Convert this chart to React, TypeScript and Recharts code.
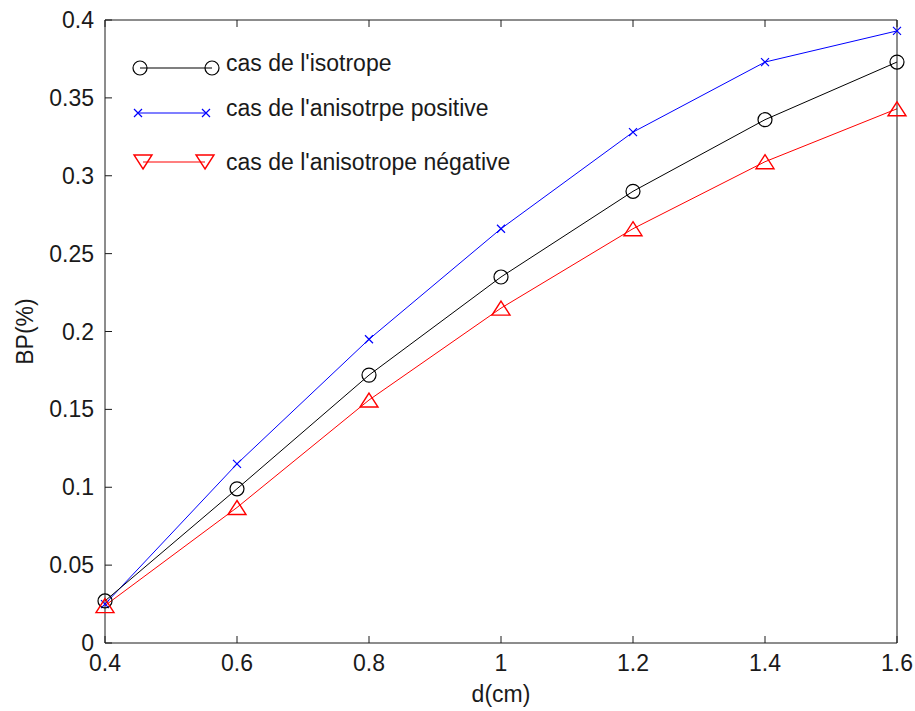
import React from 'react';
import { LineChart, Line, XAxis, YAxis, Legend } from 'recharts';

// thickness d (cm) and BP (%) for each case
const D_CM = [0.4, 0.6, 0.8, 1.0, 1.2, 1.4, 1.6];
const ISOTROPE = [0.027, 0.099, 0.172, 0.235, 0.29, 0.336, 0.373];
const ANISO_POSITIVE = [0.025, 0.115, 0.195, 0.266, 0.328, 0.373, 0.393];
const ANISO_NEGATIVE = [0.024, 0.087, 0.156, 0.215, 0.266, 0.309, 0.343];

const X_TICKS = [0.4, 0.6, 0.8, 1, 1.2, 1.4, 1.6];
const Y_TICKS = [0, 0.05, 0.1, 0.15, 0.2, 0.25, 0.3, 0.35, 0.4];

const LABEL_ISO = "cas de l'isotrope";
const LABEL_POS = "cas de l'anisotrpe positive";
const LABEL_NEG = "cas de l'anisotrope négative";

const chartData = D_CM.map((d, i) => ({
  d,
  iso: ISOTROPE[i],
  pos: ANISO_POSITIVE[i],
  neg: ANISO_NEGATIVE[i],
}));

const FONT = '"Liberation Sans", Arial, sans-serif';
const AXIS_COLOR = '#1a1a1a';
const TEXT_COLOR = '#1a1a1a';
const TICK_LEN = 7;
const fmt = (v: number) => String(Math.round(v * 100) / 100);

// matlab-style ticks: short marks pointing into the plot box
const BottomTick = ({ x, y, payload }: any) => {
  const axisY = y - 12;
  return (
    <g>
      <line x1={x} x2={x} y1={axisY} y2={axisY - TICK_LEN} stroke={AXIS_COLOR} />
      <text x={x} y={y + 16} textAnchor="middle" fontFamily={FONT} fontSize={23} fill={TEXT_COLOR}>
        {fmt(payload.value)}
      </text>
    </g>
  );
};
const LeftTick = ({ x, y, payload }: any) => {
  const axisX = x + 11;
  return (
    <g>
      <line x1={axisX} x2={axisX + TICK_LEN} y1={y} y2={y} stroke={AXIS_COLOR} />
      <text x={x} y={y + 8} textAnchor="end" fontFamily={FONT} fontSize={23} fill={TEXT_COLOR}>
        {fmt(payload.value)}
      </text>
    </g>
  );
};
const TopTick = ({ x, y }: any) => (
  <line x1={x} x2={x} y1={y} y2={y + TICK_LEN} stroke={AXIS_COLOR} />
);
const RightTick = ({ x, y }: any) => (
  <line x1={x} x2={x - TICK_LEN} y1={y} y2={y} stroke={AXIS_COLOR} />
);

// marker shapes (matlab-like 'o', 'x', '^' / 'v')
const Circle = ({ cx, cy }: { cx: number; cy: number }) => (
  <circle cx={cx} cy={cy} r={7} fill="none" stroke="#000" strokeWidth={1.2} />
);
const Cross = ({ cx, cy }: { cx: number; cy: number }) => (
  <path
    d={`M${cx - 4},${cy - 4}L${cx + 4},${cy + 4}M${cx - 4},${cy + 4}L${cx + 4},${cy - 4}`}
    stroke="#0000ff"
    strokeWidth={1.2}
  />
);
const Tri = ({ cx, cy, down }: { cx: number; cy: number; down?: boolean }) => {
  const s = down ? -1 : 1;
  return (
    <path
      d={`M${cx},${cy - 7 * s}L${cx + 9},${cy + 7 * s}L${cx - 9},${cy + 7 * s}Z`}
      fill="none"
      stroke="#ff0000"
      strokeWidth={1.4}
    />
  );
};

const legendItems = [
  { label: LABEL_ISO, color: '#000', y: 23, x1: 20, x2: 92, base: 26, marker: 'o' },
  { label: LABEL_POS, color: '#0000ff', y: 68, x1: 18, x2: 86, base: 71, marker: 'x' },
  { label: LABEL_NEG, color: '#ff0000', y: 117, x1: 23, x2: 85, base: 125, marker: 'v' },
];

const LegendBox = () => (
  <svg width={420} height={140} style={{ display: 'block', overflow: 'visible' }}>
    {legendItems.map((it) => (
      <g key={it.label}>
        <line x1={it.x1} x2={it.x2} y1={it.y} y2={it.y} stroke={it.color} strokeWidth={1.2} />
        {[it.x1, it.x2].map((x) =>
          it.marker === 'o' ? (
            <Circle key={x} cx={x} cy={it.y} />
          ) : it.marker === 'x' ? (
            <Cross key={x} cx={x} cy={it.y} />
          ) : (
            <Tri key={x} cx={x} cy={it.y} down />
          )
        )}
        <text x={106} y={it.base} fontFamily={FONT} fontSize={23} fill={TEXT_COLOR}>
          {it.label}
        </text>
      </g>
    ))}
  </svg>
);

export default function App() {
  return (
    <div style={{ position: 'absolute', left: 0, top: 0, background: '#fff' }}>
      <LineChart
        width={915}
        height={711}
        data={chartData}
        margin={{ top: 19, right: 17, left: 0, bottom: 0 }}
      >
        <XAxis
          dataKey="d"
          type="number"
          domain={[0.4, 1.6]}
          ticks={X_TICKS}
          height={68}
          tickSize={0}
          tickMargin={12}
          tickLine={false}
          tick={BottomTick}
          stroke={AXIS_COLOR}
          interval={0}
          label={{
            value: 'd(cm)',
            position: 'insideBottom',
            offset: 9,
            fill: TEXT_COLOR,
            fontSize: 23,
            fontFamily: FONT,
          }}
        />
        <XAxis
          xAxisId="top"
          dataKey="d"
          type="number"
          orientation="top"
          domain={[0.4, 1.6]}
          ticks={X_TICKS}
          height={1}
          tickSize={0}
          tickMargin={0}
          tickLine={false}
          tick={TopTick}
          stroke={AXIS_COLOR}
          interval={0}
        />
        <YAxis
          type="number"
          domain={[0, 0.4]}
          ticks={Y_TICKS}
          width={105}
          tickSize={0}
          tickMargin={11}
          tickLine={false}
          tick={LeftTick}
          stroke={AXIS_COLOR}
          interval={0}
          label={{
            content: ({ viewBox }: any) => {
              const cy = viewBox.y + viewBox.height / 2;
              return (
                <text
                  x={33}
                  y={cy}
                  transform={`rotate(-90 33 ${cy})`}
                  textAnchor="middle"
                  fontFamily={FONT}
                  fontSize={23}
                  fill={TEXT_COLOR}
                >
                  BP(%)
                </text>
              );
            },
          }}
        />
        <YAxis
          yAxisId="right"
          type="number"
          orientation="right"
          domain={[0, 0.4]}
          ticks={Y_TICKS}
          width={1}
          tickSize={0}
          tickMargin={0}
          tickLine={false}
          tick={RightTick}
          stroke={AXIS_COLOR}
          interval={0}
        />
        <Legend
          layout="vertical"
          align="center"
          verticalAlign="middle"
          wrapperStyle={{ left: 120, top: 45, width: 420 }}
          content={() => <LegendBox />}
        />
        <Line
          dataKey="pos"
          name={LABEL_POS}
          stroke="#0000ff"
          strokeWidth={1}
          isAnimationActive={false}
          dot={(p: any) => <Cross key={p.index} cx={p.cx} cy={p.cy} />}
        />
        <Line
          dataKey="iso"
          name={LABEL_ISO}
          stroke="#000"
          strokeWidth={1}
          isAnimationActive={false}
          dot={(p: any) => <Circle key={p.index} cx={p.cx} cy={p.cy} />}
        />
        <Line
          dataKey="neg"
          name={LABEL_NEG}
          stroke="#ff0000"
          strokeWidth={1}
          isAnimationActive={false}
          dot={(p: any) => <Tri key={p.index} cx={p.cx} cy={p.cy} />}
        />
      </LineChart>
    </div>
  );
}
